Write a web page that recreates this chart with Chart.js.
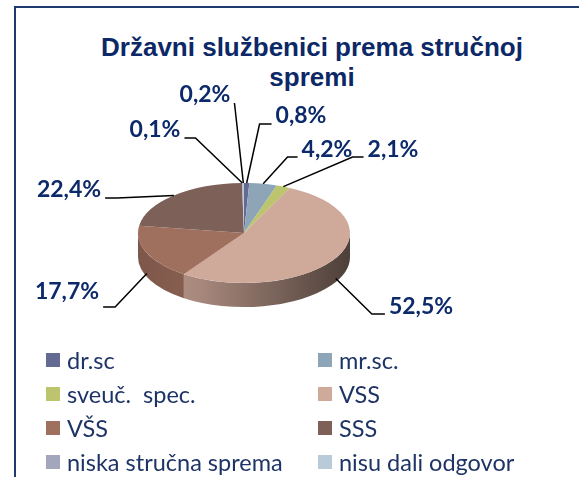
<!DOCTYPE html>
<html>
<head>
<meta charset="utf-8">
<script src="https://cdn.jsdelivr.net/npm/chart.js@4.4.1/dist/chart.umd.min.js"></script>
<style>
    html, body { margin: 0; padding: 0; background: #fff; overflow: hidden; }
    #page { position: relative; width: 579px; height: 477px; overflow: hidden; }
    #frame {
        position: absolute; left: 14px; top: 6px; width: 700px; height: 600px;
        border-left: 2px solid #1f3a6e; border-top: 2px solid #1f3a6e;
    }
    #title {
        position: absolute; left: 14px; top: 32px; width: 596px;
        text-align: center; color: #0c2866;
        font: bold 26px/30px "Liberation Sans", Arial, sans-serif;
    }
    #chart { position: absolute; left: 0; top: 0; }
    #legend {
        position: absolute; left: 46px; top: 343px;
        display: grid; grid-template-columns: 272px 220px; grid-auto-rows: 34px;
        font: 23.5px Lato, "Open Sans", sans-serif; color: #1f3466;
    }
    .item { display: flex; align-items: center; white-space: pre; }
    .box { width: 14px; height: 14px; margin-right: 7px; flex: none; }
</style>
</head>
<body>
<div id="page">
    <div id="frame"></div>
    <div id="title">Državni službenici prema stručnoj<br>spremi</div>
    <canvas id="chart" width="579" height="477"></canvas>
    <div id="legend"></div>
</div>
<script>
// Data
const categories = ['dr.sc', 'mr.sc.', 'sveuč.  spec.', 'VSS', 'VŠS', 'SSS', 'niska stručna sprema', 'nisu dali odgovor'];
const shares = [0.8, 4.2, 2.1, 52.5, 17.7, 22.4, 0.1, 0.2];
const sliceColors = ['#636b93', '#8ea5b8', '#bcc46e', '#cfa99a', '#a0705f', '#7d6159', '#a3a6bd', '#b9cad9'];

// Where each percentage label sits (text centre, leader line height, side, elbow length)
const labelSpots = [
    { x: 301, y: 116, lineY: 124, dir: 1, elbow: 12 },
    { x: 327, y: 150, lineY: 157, dir: 1, elbow: 10 },
    { x: 393, y: 150, lineY: 157, dir: 1, elbow: 11 },
    { x: 421, y: 307, lineY: 314, dir: 1, elbow: 13 },
    { x: 67, y: 292, lineY: 307, dir: -1, elbow: 12 },
    { x: 69, y: 190, lineY: 198, dir: -1, elbow: 12 },
    { x: 155, y: 130, lineY: 138, dir: -1, elbow: 11 },
    { x: 205, y: 95, lineY: 103, dir: -1, elbow: 0 }
];

const TILT = 50 / 106;   // vertical squash of the pie
const DEPTH = 24;        // thickness of the pie side

function shade(hex, f) {
    const n = parseInt(hex.slice(1), 16);
    const r = Math.round(((n >> 16) & 255) * f);
    const g = Math.round(((n >> 8) & 255) * f);
    const b = Math.round((n & 255) * f);
    return `rgb(${r},${g},${b})`;
}

const pie3d = {
    id: 'pie3d',
    beforeDatasetsDraw(chart) {
        const ctx = chart.ctx;
        const arcs = chart.getDatasetMeta(0).data;
        if (!arcs.length) return;
        const { x: cx, y: cy, outerRadius: r } = arcs[0].getProps(['x', 'y', 'outerRadius'], true);
        const ry = r * TILT;

        // front side of the cylinder
        arcs.forEach((arc, i) => {
            const { startAngle, endAngle } = arc.getProps(['startAngle', 'endAngle'], true);
            const a = Math.max(startAngle, 0);
            const b = Math.min(endAngle, Math.PI);
            if (b <= a) return;
            const col = sliceColors[i];
            const grad = ctx.createLinearGradient(cx - r, 0, cx + r, 0);
            grad.addColorStop(0, shade(col, 0.78));
            grad.addColorStop(0.2, shade(col, 0.84));
            grad.addColorStop(0.3, shade(col, 0.8));
            grad.addColorStop(1, shade(col, 0.37));
            ctx.save();
            ctx.fillStyle = grad;
            ctx.beginPath();
            ctx.ellipse(cx, cy, r, ry, 0, a, b);
            ctx.lineTo(cx + r * Math.cos(b), cy + ry * Math.sin(b) + DEPTH);
            ctx.ellipse(cx, cy + DEPTH, r, ry, 0, b, a, true);
            ctx.closePath();
            ctx.fill();
            ctx.restore();
        });

        // squash the top face drawn by Chart.js
        ctx.save();
        ctx.translate(cx, cy);
        ctx.scale(1, TILT);
        ctx.translate(-cx, -cy);
    },
    afterDatasetsDraw(chart) {
        const ctx = chart.ctx;
        ctx.restore();
        const arcs = chart.getDatasetMeta(0).data;
        if (!arcs.length) return;
        const { x: cx, y: cy, outerRadius: r } = arcs[0].getProps(['x', 'y', 'outerRadius'], true);
        const ry = r * TILT;

        ctx.save();
        ctx.font = 'bold 23px Lato, "Open Sans", sans-serif';
        ctx.textBaseline = 'middle';
        ctx.textAlign = 'center';
        arcs.forEach((arc, i) => {
            const spot = labelSpots[i];
            const { startAngle, endAngle } = arc.getProps(['startAngle', 'endAngle'], true);
            const mid = (startAngle + endAngle) / 2;
            let ax = cx + r * Math.cos(mid);
            let ay = cy + ry * Math.sin(mid);
            if (Math.sin(mid) > 0.3) ay += DEPTH * 0.85;

            const text = shares[i].toFixed(1).replace('.', ',') + '%';
            const w = ctx.measureText(text).width;
            const sx = spot.dir > 0 ? spot.x - w / 2 - 4 : spot.x + w / 2 + 4;
            const ex = sx - spot.dir * spot.elbow;

            ctx.strokeStyle = '#000';
            ctx.lineWidth = 1.5;
            ctx.beginPath();
            ctx.moveTo(sx, spot.lineY);
            ctx.lineTo(ex, spot.lineY);
            ctx.lineTo(ax, ay);
            ctx.stroke();

            ctx.fillStyle = '#0c2a6a';
            ctx.fillText(text, spot.x, spot.y);
        });
        ctx.restore();
    }
};

const chart = new Chart(document.getElementById('chart'), {
    type: 'pie',
    data: {
        labels: categories,
        datasets: [{
            data: shares,
            backgroundColor: sliceColors,
            borderWidth: 0,
            hoverOffset: 0,
            clip: false
        }]
    },
    options: {
        responsive: false,
        animation: false,
        events: [],
        layout: {
            autoPadding: false,
            padding: { left: 138, right: 229, top: 127, bottom: 138 }
        },
        plugins: {
            legend: { display: false },
            tooltip: { enabled: false },
            title: { display: false }
        }
    },
    plugins: [pie3d]
});

// HTML legend in two columns, built from the chart's own legend items
const legendEl = document.getElementById('legend');
chart.options.plugins.legend.labels.generateLabels(chart).forEach(item => {
    const div = document.createElement('div');
    div.className = 'item';
    const box = document.createElement('span');
    box.className = 'box';
    box.style.background = item.fillStyle;
    div.appendChild(box);
    div.appendChild(document.createTextNode(item.text));
    legendEl.appendChild(div);
});
</script>
</body>
</html>
